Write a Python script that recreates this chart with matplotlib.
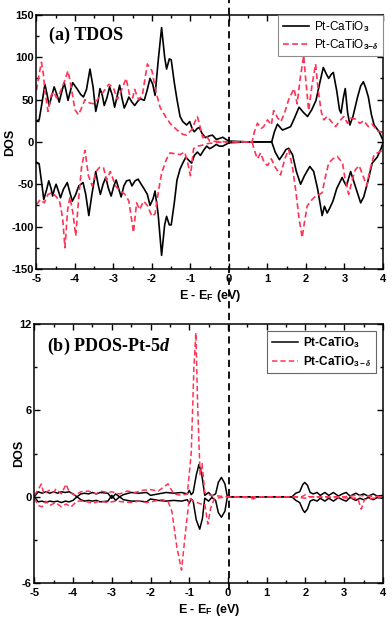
import matplotlib
matplotlib.use('Agg')
import matplotlib.pyplot as plt
import matplotlib.transforms as mtransforms
from matplotlib.lines import Line2D
from matplotlib.ticker import MultipleLocator

plt.rcParams['font.family'] = ['Liberation Sans', 'DejaVu Sans']
plt.rcParams['font.weight'] = 'bold'
plt.rcParams['axes.unicode_minus'] = False
plt.rcParams['mathtext.fontset'] = 'custom'
plt.rcParams['mathtext.rm'] = 'Liberation Sans'
plt.rcParams['mathtext.bf'] = 'Liberation Sans:bold'
plt.rcParams['mathtext.it'] = 'Liberation Serif:italic:bold'

# (a) TDOS -- energies (eV) and DOS values
e_blk_up = [-5.0, -4.93, -4.86, -4.78, -4.72, -4.67, -4.6, -4.54, -4.47, -4.41, -4.35, -4.28, -4.23, -4.18,
            -4.12, -4.06, -3.95, -3.85, -3.78, -3.7, -3.61, -3.53, -3.46, -3.4, -3.35, -3.29, -3.24, -3.17,
            -3.1, -3.03, -2.97, -2.9, -2.84, -2.78, -2.72, -2.66, -2.6, -2.52, -2.45, -2.37, -2.3, -2.2,
            -2.12, -2.05, -1.98, -1.92, -1.84, -1.75, -1.67, -1.62, -1.55, -1.5, -1.42, -1.35, -1.27, -1.2,
            -1.1, -1.02, -0.95, -0.9, -0.82, -0.77, -0.7, -0.61, -0.52, -0.43, -0.33, -0.25, -0.16, -0.08,
            0.0, 0.5, 1.11, 1.18, 1.26, 1.33, 1.39, 1.5, 1.6, 1.7, 1.82, 1.93, 2.04, 2.15, 2.26, 2.36, 2.45,
            2.53, 2.59, 2.66, 2.71, 2.8, 2.87, 2.91, 2.97, 3.02, 3.08, 3.14, 3.22, 3.34, 3.42, 3.49, 3.55,
            3.62, 3.7, 3.77, 3.9, 4.0]
dos_blk_up = [25, 26, 45, 68, 55, 43, 55, 65, 56, 47, 58, 70, 60, 49,
              60, 70, 63, 56, 53, 62, 86, 65, 36, 48, 63, 55, 43, 52,
              65, 55, 41, 55, 67, 52, 40, 46, 53, 47, 43, 48, 51, 49,
              62, 75, 68, 55, 95, 135, 100, 86, 98, 97, 70, 50, 30, 24,
              20, 24, 15, 12, 16, 17, 10, 5, 7, 8, 3, 4, 5.5, 3,
              1, 0, 0, 12, 21, 17, 14, 16, 18, 28, 41, 35, 30, 38, 49, 70, 88,
              80, 75, 80, 82, 60, 38, 34, 52, 63, 35, 20, 30, 53, 66, 71, 64,
              53, 32, 20, 12, 2]

e_blk_dn = [-5.0, -4.93, -4.86, -4.81, -4.74, -4.68, -4.62, -4.58, -4.53, -4.49, -4.43, -4.375, -4.3, -4.2,
            -4.13, -4.07, -3.98, -3.9, -3.79, -3.72, -3.64, -3.56, -3.46, -3.4, -3.34, -3.27, -3.2, -3.13,
            -3.06, -2.99, -2.93, -2.86, -2.8, -2.73, -2.66, -2.58, -2.52, -2.44, -2.36, -2.28, -2.21, -2.12,
            -2.05, -1.97, -1.92, -1.84, -1.75, -1.67, -1.62, -1.55, -1.5, -1.42, -1.35, -1.27, -1.2, -1.12,
            -1.04, -0.97, -0.9, -0.82, -0.74, -0.66, -0.58, -0.5, -0.42, -0.33, -0.25, -0.16, -0.08, 0.0,
            0.5, 1.11, 1.2, 1.31, 1.4, 1.48, 1.55, 1.65, 1.75, 1.86, 1.96, 2.1, 2.2, 2.3, 2.42, 2.48, 2.55,
            2.62, 2.7, 2.8, 2.94, 3.0, 3.05, 3.16, 3.25, 3.42, 3.5, 3.6, 3.72, 3.85, 3.95, 4.0]
dos_blk_dn = [-24, -26, -50, -68, -57, -46, -55, -64, -55, -50, -58, -66, -56, -48,
              -60, -70, -62, -52, -48, -62, -87, -62, -35, -50, -62, -50, -42, -55,
              -64, -52, -45, -56, -65, -52, -46, -45, -52, -46, -44, -50, -55, -62,
              -75, -67, -58, -85, -134, -98, -88, -98, -98, -72, -45, -32, -25, -18,
              -22, -25, -16, -12, -16, -10, -5, -8, -6, -3, -5, -5, -3, -1,
              0, 0, -12, -21, -15, -9, -7.5, -15, -35, -50, -40, -29, -35, -55, -87, -76, -84,
              -78, -70, -55, -42, -48, -52, -35, -48, -72, -65, -48, -25, -18, -8, -1]

e_red_up = [-5.0, -4.93, -4.87, -4.82, -4.78, -4.7, -4.62, -4.55, -4.48, -4.41, -4.3, -4.18, -4.1, -4.0,
            -3.91, -3.83, -3.74, -3.62, -3.5, -3.38, -3.25, -3.12, -3.0, -2.9, -2.82, -2.67, -2.58, -2.5,
            -2.45, -2.35, -2.25, -2.12, -2.0, -1.9, -1.79, -1.65, -1.53, -1.35, -1.2, -1.1, -0.96, -0.9,
            -0.82, -0.75, -0.68, -0.6, -0.5, -0.3, 0.0, 0.6, 0.66, 0.74, 0.84, 0.9, 1.0, 1.1, 1.16, 1.27,
            1.35, 1.45, 1.55, 1.69, 1.77, 1.85, 1.94, 2.0, 2.07, 2.15, 2.25, 2.32, 2.4, 2.46, 2.55, 2.64,
            2.77, 2.88, 2.98, 3.08, 3.16, 3.28, 3.4, 3.5, 3.62, 3.72, 3.85, 3.95, 4.0]
dos_red_up = [61, 80, 94, 80, 60, 36, 55, 59, 52, 56, 68, 84, 65, 38,
              32, 40, 50, 46, 45, 52, 60, 68, 64, 50, 58, 75, 55, 52,
              62, 50, 55, 92, 84, 60, 41, 30, 22, 14, 9, 8, 15, 22,
              30, 18, 5, 8, 1, 0.5, 0, 0, 12, 22, 16, 18, 26, 20, 37, 28,
              24, 35, 50, 63, 45, 75, 102, 70, 37, 65, 92, 60, 35, 26, 30, 25,
              18, 25, 30, 22, 28, 27, 22, 25, 18, 21, 13, 12, 10]

e_red_dn = [-5.0, -4.9, -4.8, -4.7, -4.6, -4.5, -4.4, -4.32, -4.26, -4.19, -4.13, -4.05, -3.98, -3.9,
            -3.83, -3.74, -3.65, -3.55, -3.45, -3.36, -3.26, -3.18, -3.08, -2.95, -2.82, -2.7, -2.6, -2.48,
            -2.4, -2.32, -2.22, -2.12, -2.0, -1.92, -1.82, -1.75, -1.62, -1.53, -1.4, -1.27, -1.15, -1.07,
            -1.0, -0.92, -0.82, -0.7, -0.55, -0.3, 0.0, 0.6, 0.66, 0.74, 0.82, 0.92, 1.0, 1.1, 1.2, 1.34,
            1.45, 1.55, 1.65, 1.73, 1.82, 1.9, 1.96, 2.03, 2.12, 2.25, 2.35, 2.42, 2.5, 2.59, 2.7, 2.81,
            2.95, 3.02, 3.11, 3.2, 3.28, 3.38, 3.48, 3.58, 3.65, 3.77, 3.9, 4.0]
dos_red_dn = [-74, -68, -72, -62, -60, -64, -70, -90, -125, -80, -65, -85, -111, -65,
              -30, -10, -40, -52, -35, -30, -30, -45, -35, -52, -58, -62, -70, -107,
              -72, -80, -70, -75, -88, -85, -55, -37, -20, -13, -14, -15, -12, -25,
              -40, -8, -5, -4, -2, -0.5, 0, 0, -10, -20, -13, -25, -28, -20, -30, -39,
              -20, -9, -30, -56, -90, -113, -95, -76, -70, -64, -62, -60, -42, -25, -20, -17,
              -25, -45, -62, -45, -33, -28, -40, -52, -35, -15, -12, -10]

# (b) PDOS Pt-5d
e_pb_up = [-5.0, -4.9, -4.8, -4.7, -4.6, -4.5, -4.4, -4.3, -4.2, -4.1, -4.0, -3.9, -3.8, -3.7, -3.6,
           -3.5, -3.4, -3.3, -3.1, -3.0, -2.9, -2.8, -2.7, -2.5, -2.3, -2.1, -2.0, -1.8, -1.6, -1.4,
           -1.2, -1.05, -1.0, -0.95, -0.9, -0.82, -0.75, -0.68, -0.6, -0.5, -0.42, -0.32, -0.25, -0.17,
           -0.08, -0.02, 0.0, 1.65, 1.75, 1.85, 1.93, 1.98, 2.05, 2.12, 2.2, 2.3, 2.38, 2.5, 2.6, 2.72,
           2.85, 2.95, 3.05, 3.15, 3.3, 3.4, 3.5, 3.62, 3.75, 3.85, 4.0]
dos_pb_up = [0.0, 0.35, 0.25, 0.35, 0.25, 0.35, 0.25, 0.35, 0.3, 0.35, 0.2, 0.0, 0.2, 0.25, 0.2,
             0.3, 0.2, 0.3, 0.25, -0.1, 0.2, 0.0, 0.15, 0.3, 0.25, 0.3, 0.1, 0.2, 0.3, 0.25,
             0.3, 0.2, 0.45, 0.15, 0.3, 1.5, 2.25, 1.6, 0.1, 0.3, 0.05, 0.2, 1.0, 1.35,
             0.9, 0.05, 0.0, 0.0, 0.25, 0.35, 0.85, 1.0, 0.8, 0.3, 0.2, 0.3, 0.1, 0.3, 0.1, 0.3,
             0.05, 0.2, 0.3, 0.05, 0.25, 0.1, 0.2, 0.05, 0.2, 0.05, 0.1]
e_pb_dn = [-5.0, -4.9, -4.8, -4.7, -4.6, -4.5, -4.4, -4.3, -4.2, -4.1, -4.0, -3.9, -3.8, -3.7, -3.6,
           -3.5, -3.4, -3.3, -3.1, -3.0, -2.9, -2.8, -2.7, -2.5, -2.3, -2.1, -2.0, -1.8, -1.6, -1.4,
           -1.2, -1.05, -1.0, -0.95, -0.9, -0.82, -0.73, -0.66, -0.6, -0.5, -0.42, -0.32, -0.25, -0.17,
           -0.08, -0.02, 0.0, 1.65, 1.75, 1.85, 1.93, 1.98, 2.05, 2.12, 2.2, 2.3, 2.38, 2.5, 2.6, 2.72,
           2.85, 2.95, 3.05, 3.15, 3.3, 3.4, 3.5, 3.62, 3.75, 3.85, 4.0]
dos_pb_dn = [0.0, -0.35, -0.3, -0.4, -0.3, -0.35, -0.3, -0.4, -0.3, -0.35, -0.25, 0.0, -0.2, -0.3, -0.25,
             -0.3, -0.25, -0.35, -0.3, 0.1, -0.25, 0.0, -0.2, -0.3, -0.3, -0.35, -0.15, -0.25, -0.3, -0.25,
             -0.3, -0.2, -0.45, -0.15, -0.3, -1.6, -2.25, -1.5, -0.1, -0.3, -0.05, -0.25, -1.1, -1.42,
             -1.0, -0.05, 0.0, 0.0, -0.25, -0.4, -0.9, -1.09, -0.85, -0.3, -0.2, -0.3, -0.1, -0.3, -0.1, -0.3,
             -0.05, -0.2, -0.3, -0.05, -0.25, -0.1, -0.2, -0.05, -0.2, -0.05, -0.1]

e_pr_up = [-5.0, -4.9, -4.82, -4.75, -4.62, -4.5, -4.44, -4.3, -4.18, -4.1, -3.95, -3.8, -3.6, -3.4,
           -3.3, -3.1, -3.0, -2.8, -2.6, -2.4, -2.2, -2.0, -1.8, -1.55, -1.4, -1.2, -1.05, -0.95, -0.88,
           -0.83, -0.78, -0.72, -0.67, -0.6, -0.45, 0.0, 1.9, 2.0, 2.1, 3.0, 3.3, 4.0]
dos_pr_up = [0.1, 0.5, 0.88, 0.2, 0.45, 0.3, 0.55, 0.2, 0.88, 0.35, 0.1, 0.35, 0.4, 0.2,
             0.4, 0.3, 0.35, 0.2, 0.4, 0.3, 0.45, 0.5, 0.4, 0.9, 0.2, 0.1, 0.2, 3.0, 9.0,
             11.4, 6.0, 1.5, 2.3, 0.3, 0.1, 0.0, 0.0, 0.15, 0.0, 0.0, 0.1, 0.0]
e_pr_dn = [-5.0, -4.9, -4.8, -4.7, -4.6, -4.45, -4.3, -4.18, -4.05, -3.9, -3.7, -3.5, -3.3, -3.1,
           -2.9, -2.7, -2.5, -2.3, -2.1, -1.9, -1.7, -1.55, -1.45, -1.32, -1.2, -1.1, -1.0, -0.9, -0.7,
           -0.6, -0.52, -0.45, -0.35, 0.0, 0.5, 0.65, 0.75, 1.7, 2.0, 2.1, 3.35, 3.44, 3.52, 4.0]
dos_pr_dn = [-0.1, -0.6, -0.7, -0.3, -0.6, -0.4, -0.7, -0.5, -0.7, -0.3, -0.3, -0.45, -0.3, -0.4,
             -0.3, -0.35, -0.4, -0.3, -0.4, -0.3, -0.2, -0.3, -1.0, -3.5, -5.1, -2.5, -0.1, -0.3, -0.5,
             -0.5, -1.9, -0.8, -0.1, 0.0, -0.05, -0.15, 0.0, 0.0, -0.1, 0.0, -0.1, -0.86, -0.2, 0.0]

lbl1 = 'Pt-CaTiO$_3$'
lbl2 = 'Pt-CaTiO$_{3\\mathrm{-}\\delta}$'

red = '#ff3355'
dash_red = (0, (3.5, 2))

fig = plt.figure(figsize=(3.92, 6.21), dpi=100)
ax1 = fig.add_axes([0.093, 0.567, 0.884, 0.409])
ax2 = fig.add_axes([0.0875, 0.061, 0.8895, 0.417])

ax1.plot(e_blk_up, dos_blk_up, color='black', lw=1.2, label=lbl1)
ax1.plot(e_blk_dn, dos_blk_dn, color='black', lw=1.2)
ax1.plot(e_red_up, dos_red_up, color=red, lw=1.2, ls=dash_red, label=lbl2)
ax1.plot(e_red_dn, dos_red_dn, color=red, lw=1.2, ls=dash_red)
ax1.set_xlim(-5, 4)
ax1.set_ylim(-150, 150)
ax1.yaxis.set_major_locator(MultipleLocator(50))
ax1.yaxis.set_minor_locator(MultipleLocator(25))
ax1.set_ylabel('DOS', fontsize=9, fontweight='bold')
ax1.yaxis.set_label_coords(-0.059, 0.5)
ax1.set_xlabel('E - E$_\\mathbf{F}$ (eV)', fontsize=9, fontweight='bold', labelpad=3)
ax1.text(0.035, 0.955, '(a) TDOS', transform=ax1.transAxes, family='Liberation Serif',
         fontsize=13, fontweight='bold', va='top')
leg1 = ax1.legend(loc='upper right', prop={'weight': 'normal', 'size': 8.5},
                  borderaxespad=0, fancybox=False, edgecolor='0.55', framealpha=1,
                  handlelength=2.2, handletextpad=0.5, borderpad=0.35, labelspacing=0.3)
leg1.get_frame().set_linewidth(0.8)

ax2.plot(e_pb_up, dos_pb_up, color='black', lw=1.1, label='Pt-CaTiO$_\\mathbf{3}$')
ax2.plot(e_pb_dn, dos_pb_dn, color='black', lw=1.1)
ax2.plot(e_pr_up, dos_pr_up, color=red, lw=1.1, ls=dash_red, label='Pt-CaTiO$_{\\mathbf{3-}\\delta}$')
ax2.plot(e_pr_dn, dos_pr_dn, color=red, lw=1.1, ls=dash_red)
ax2.set_xlim(-5, 4)
ax2.set_ylim(-6, 12)
ax2.yaxis.set_major_locator(MultipleLocator(6))
ax2.yaxis.set_minor_locator(MultipleLocator(3))
ax2.set_ylabel('DOS', fontsize=9, fontweight='bold')
ax2.yaxis.set_label_coords(-0.027, 0.5)
ax2.set_xlabel('E - E$_\\mathbf{F}$ (eV)', fontsize=9, fontweight='bold', labelpad=3)
ax2.text(0.035, 0.955, '(b) PDOS-Pt-5$d$', transform=ax2.transAxes, family='Liberation Serif',
         fontsize=13, fontweight='bold', va='top')
leg2 = ax2.legend(loc='upper right', prop={'weight': 'bold', 'size': 8.5},
                  borderaxespad=0.6, fancybox=False, edgecolor='0.4', framealpha=1,
                  handlelength=2.2, handletextpad=0.5, borderpad=0.35, labelspacing=0.3)
leg2.get_frame().set_linewidth(0.8)

for ax in (ax1, ax2):
    ax.xaxis.set_major_locator(MultipleLocator(1))
    ax.xaxis.set_minor_locator(MultipleLocator(0.5))
    ax.tick_params(which='both', direction='in', top=True, right=True, labelsize=8, width=1)
    ax.tick_params(which='major', length=4)
    ax.tick_params(which='minor', length=2)
    ax.tick_params(axis='y', pad=2)
    for s in ax.spines.values():
        s.set_linewidth(1.1)

# Fermi level line running through both panels
tr = mtransforms.blended_transform_factory(ax1.transData, fig.transFigure)
fig.add_artist(Line2D([0, 0], [0.05, 1.0], transform=tr, color='black', lw=1.3,
                      ls=(0, (4, 2.5)), zorder=5))

fig.savefig('out.png', dpi=100)
